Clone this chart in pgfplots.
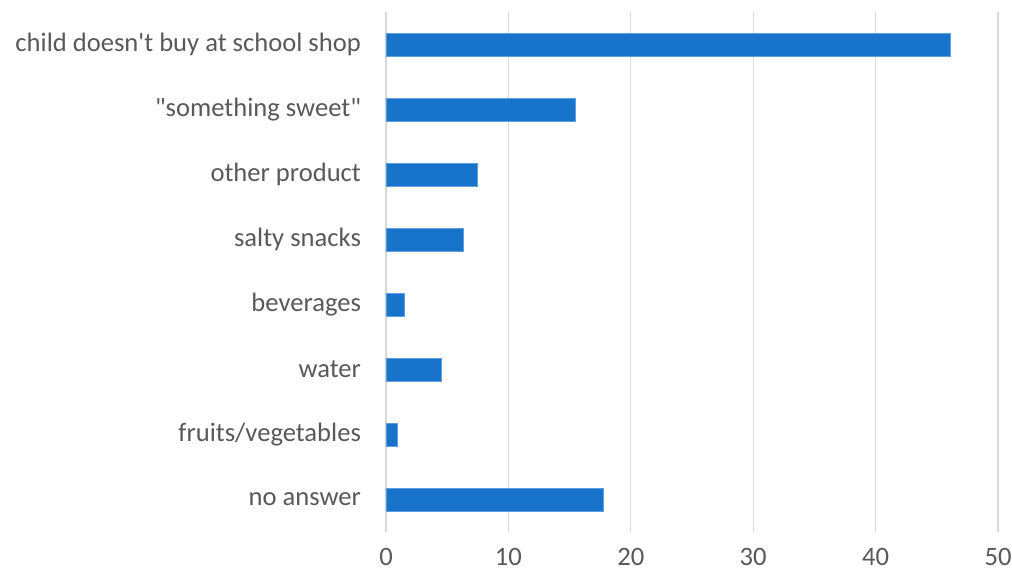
\documentclass[border=0pt]{standalone}
\usepackage{fontspec}
\setmainfont{Carlito}[Ligatures=TeXOff]
\usepackage{pgfplots}
\pgfplotsset{compat=1.18}
\definecolor{barblue}{HTML}{1874CB}
\definecolor{gridgray}{HTML}{D9D9D9}
\definecolor{txtgray}{HTML}{595959}
\begin{document}
\fontsize{26.6}{30}\selectfont
\begin{tikzpicture}
\begin{axis}[
  scale only axis,
  width=612pt, height=520pt,
  xbar, bar width=23pt,
  xmin=0, xmax=50,
  xtick={0,10,20,30,40,50},
  ymin=-0.5, ymax=7.5,
  y dir=reverse,
  ytick={0,1,2,3,4,5,6,7},
  yticklabels={child doesn't buy at school shop,"something sweet",other product,salty snacks,beverages,water,fruits/vegetables,no answer},
  axis line style={draw=none},
  major tick length=0pt,
  xmajorgrids, grid style={gridgray, line width=1.2pt},
  tick label style={font=\fontsize{26.6}{30}\selectfont, text=txtgray},
  /pgf/number format/assume math mode=true,
  yticklabel style={xshift=-16pt},
  xticklabel style={yshift=-15pt, inner sep=1pt},
  clip=false,
]
\addplot[fill=barblue, draw=barblue!70!white, line width=0.6pt] coordinates {
(46.1,0) (15.5,1) (7.5,2) (6.3,3) (1.5,4) (4.5,5) (0.9,6) (17.75,7)};
\end{axis}
\pgfresetboundingbox
\path ([xshift=-386pt,yshift=12pt]current axis.north west) rectangle ([xshift=14pt,yshift=-48pt]current axis.south east);
\end{tikzpicture}
\end{document}
